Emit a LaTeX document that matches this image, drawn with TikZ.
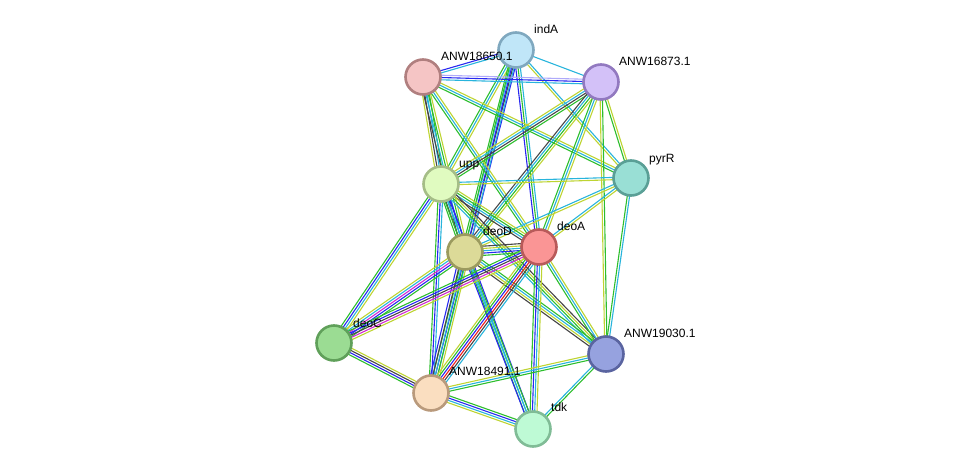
\documentclass[tikz,border=0pt]{standalone}
\usepackage{fontspec}
\setmainfont{Liberation Sans}
\usetikzlibrary{calc}
\pgfdeclarelayer{background}
\pgfsetlayers{background,main}
\definecolor{eG}{RGB}{45,190,45}
\definecolor{eB}{RGB}{40,40,240}
\definecolor{eC}{RGB}{40,180,220}
\definecolor{eY}{RGB}{190,212,50}
\definecolor{eK}{RGB}{70,70,70}
\definecolor{eM}{RGB}{210,40,210}
\definecolor{eR}{RGB}{240,30,30}
\definecolor{eL}{RGB}{175,170,250}
\tikzset{
  prot/.style={circle, minimum size=35pt, inner sep=0pt, line width=2.6pt},
  lab/.style={anchor=base west, font=\fontsize{12pt}{12pt}\selectfont, inner sep=0pt},
  edgew/.style={line width=1.1pt},
}
\newcommand\nedge[3]{%
  \xdef\ncnt{0}%
  \foreach \c in {#3}{\xdef\ncnt{\the\numexpr\ncnt+1\relax}}%
  \foreach[count=\i] \c in {#3}{%
    \pgfmathsetmacro\off{(\i-(\ncnt+1)/2)*2.3}%
    \draw[\c, edgew] ($(#1)!\off pt!90:(#2)$) -- ($(#2)!\off pt!-90:(#1)$);
  }%
}
\begin{document}
\begin{tikzpicture}[x=1pt,y=-1pt]
\useasboundingbox (0,0) rectangle (975,474);
% nodes
\node[prot, fill={rgb,255:red,192;green,230;blue,248}, draw={rgb,255:red,127;green,168;blue,191}] (indA) at (516,50) {};
\node[prot, fill={rgb,255:red,245;green,197;blue,197}, draw={rgb,255:red,176;green,127;blue,127}] (n18650) at (423,77) {};
\node[prot, fill={rgb,255:red,211;green,193;blue,248}, draw={rgb,255:red,146;green,121;blue,192}] (n16873) at (601,82) {};
\node[prot, fill={rgb,255:red,153;green,223;blue,213}, draw={rgb,255:red,90;green,159;blue,150}] (pyrR) at (631,178) {};
\node[prot, fill={rgb,255:red,224;green,251;blue,192}, draw={rgb,255:red,165;green,189;blue,135}] (upp) at (441,184) {};
\node[prot, fill={rgb,255:red,220;green,218;blue,152}, draw={rgb,255:red,155;green,154;blue,94}] (deoD) at (465,252) {};
\node[prot, fill={rgb,255:red,250;green,149;blue,149}, draw={rgb,255:red,184;green,90;blue,90}] (deoA) at (539,247) {};
\node[prot, fill={rgb,255:red,155;green,220;blue,147}, draw={rgb,255:red,96;green,160;blue,90}] (deoC) at (334,343) {};
\node[prot, fill={rgb,255:red,150;green,162;blue,223}, draw={rgb,255:red,90;green,100;blue,160}] (n19030) at (606,354) {};
\node[prot, fill={rgb,255:red,250;green,222;blue,192}, draw={rgb,255:red,185;green,154;blue,124}] (n18491) at (431,393) {};
\node[prot, fill={rgb,255:red,190;green,250;blue,213}, draw={rgb,255:red,128;green,188;blue,150}] (tdk) at (533,429) {};
% labels
\node[lab] (lindA) at (534,33) {indA};
\node[lab] (l18650) at (441,60) {ANW18650.1};
\node[lab] (l16873) at (619,65) {ANW16873.1};
\node[lab] (lpyrR) at (649,162) {pyrR};
\node[lab] (lupp) at (459,167) {upp};
\node[lab] (ldeoD) at (483,235) {deoD};
\node[lab] (ldeoA) at (557,230) {deoA};
\node[lab] (ldeoC) at (353,327) {deoC};
\node[lab] (l19030) at (624,337) {ANW19030.1};
\node[lab] (l18491) at (449,375) {ANW18491.1};
\node[lab] (ltdk) at (551,411) {tdk};
% edges
\begin{pgfonlayer}{background}
\nedge{indA}{n18650}{eB,eC}
\nedge{indA}{n16873}{eC}
\nedge{indA}{pyrR}{eY,eC}
\nedge{indA}{upp}{eG,eC,eY}
\nedge{indA}{deoD}{eG,eC,eK,eB}
\nedge{indA}{deoA}{eB,eG,eC}
\nedge{indA}{n18491}{eG,eB,eC}
\nedge{n18650}{n16873}{eC,eB,eL}
\nedge{n18650}{upp}{eY,eK,eC,eG}
\nedge{n18650}{deoD}{eK,eC,eG,eY}
\nedge{n18650}{deoA}{eG,eC,eY}
\nedge{n18650}{pyrR}{eG,eC,eY}
\nedge{n16873}{upp}{eY,eC,eK,eG}
\nedge{n16873}{deoD}{eK,eC,eG,eY}
\nedge{n16873}{deoA}{eG,eC,eY}
\nedge{n16873}{pyrR}{eG,eY}
\nedge{n16873}{n19030}{eY,eG}
\nedge{pyrR}{upp}{eC,eY}
\nedge{pyrR}{deoD}{eC,eY}
\nedge{pyrR}{deoA}{eC,eY}
\nedge{pyrR}{n19030}{eG,eC}
\nedge{upp}{deoD}{eG,eK,eC,eB}
\nedge{upp}{deoA}{eK,eC,eG,eY}
\nedge{upp}{deoC}{eG,eB,eC,eY}
\nedge{upp}{n18491}{eG,eB,eC}
\nedge{upp}{tdk}{eG,eC,eB}
\nedge{upp}{n19030}{eC,eG,eY,eK}
\nedge{deoD}{deoA}{eG,eB,eC,eY,eK}
\nedge{deoD}{deoC}{eY,eC,eM,eB,eG}
\nedge{deoD}{n18491}{eB,eK,eC,eG,eY}
\nedge{deoD}{tdk}{eB,eC,eG}
\nedge{deoD}{n19030}{eK,eY,eC,eG}
\nedge{deoA}{deoC}{eG,eB,eK,eM,eY}
\nedge{deoA}{n18491}{eY,eG,eB,eR,eK,eC}
\nedge{deoA}{tdk}{eG,eB,eC,eY}
\nedge{deoA}{n19030}{eG,eC,eY}
\nedge{deoC}{n18491}{eG,eB,eK,eY}
\nedge{n18491}{tdk}{eY,eC,eB,eG}
\nedge{n18491}{n19030}{eG,eC,eY}
\nedge{tdk}{n19030}{eG,eC}
\end{pgfonlayer}
\end{tikzpicture}
\end{document}
